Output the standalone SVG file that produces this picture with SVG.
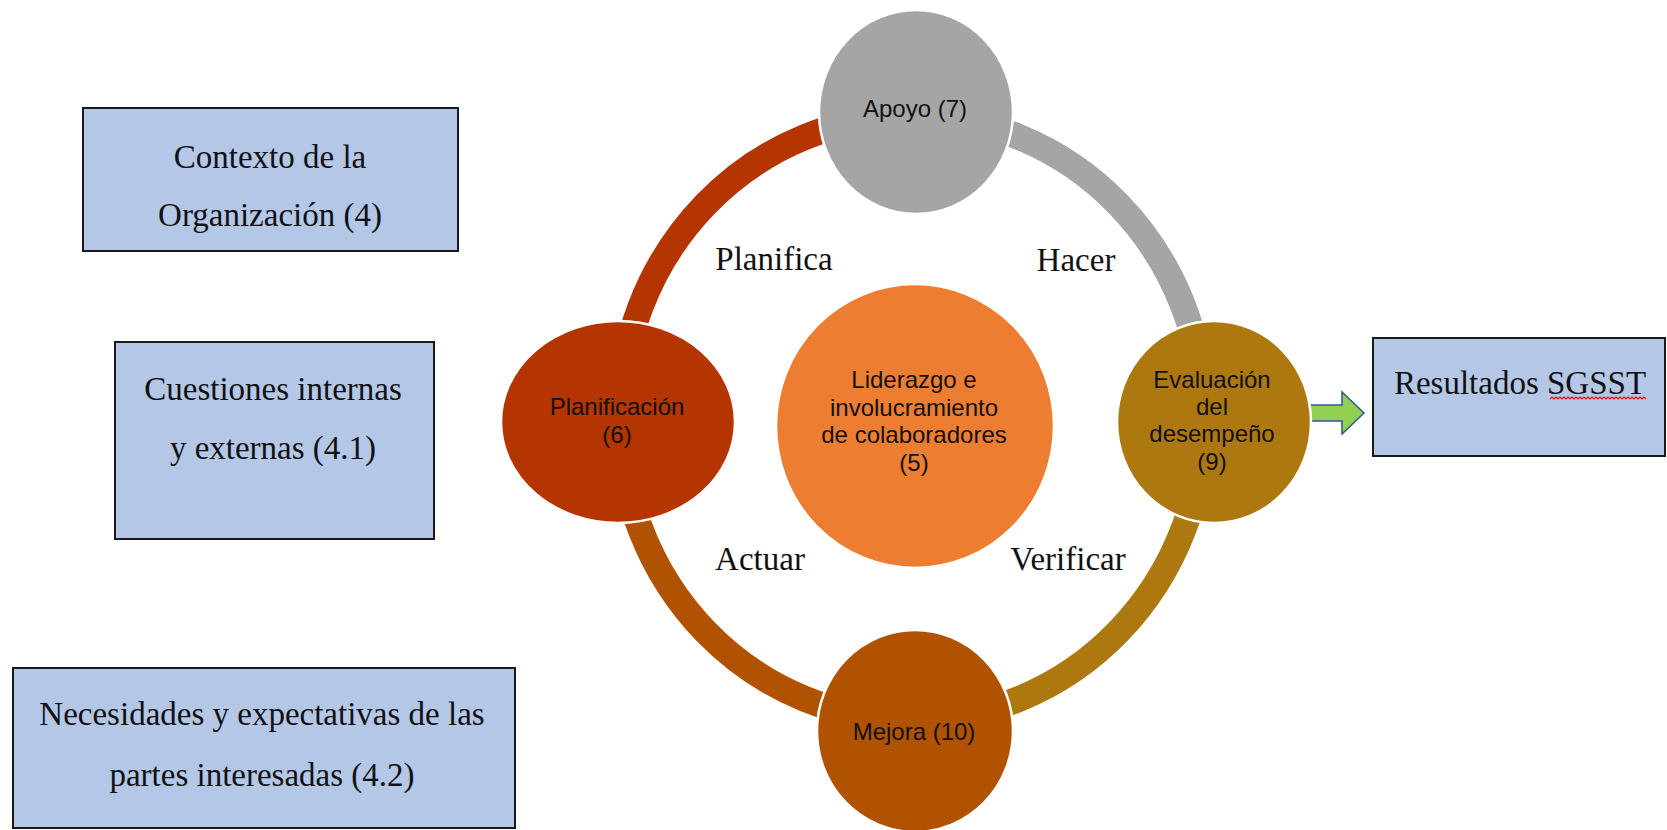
<svg xmlns="http://www.w3.org/2000/svg" width="1667" height="830" viewBox="0 0 1667 830">
  <style>
    .box{fill:#B4C7E7;stroke:#1a1a1a;stroke-width:2}
    .serif{font-family:"Liberation Serif","Times New Roman",serif;font-size:33px;fill:#111;text-anchor:middle}
    .sans{font-family:"Liberation Sans",Arial,sans-serif;font-size:24px;fill:#111;text-anchor:middle}
    .node{stroke:#ffffff;stroke-width:2.5}
    .arc{fill:none;stroke-width:26}
  </style>
  <rect width="1667" height="830" fill="#ffffff"/>

  <!-- Context boxes -->
  <g id="contexto">
    <rect class="box" x="83" y="108" width="375" height="143"/>
    <text class="serif" x="270" y="168">Contexto de la</text>
    <text class="serif" x="270" y="226">Organización (4)</text>
  </g>
  <g id="cuestiones">
    <rect class="box" x="115" y="342" width="319" height="197"/>
    <text class="serif" x="273" y="400">Cuestiones internas</text>
    <text class="serif" x="273" y="459">y externas (4.1)</text>
  </g>
  <g id="necesidades">
    <rect class="box" x="13" y="668" width="502" height="160"/>
    <text class="serif" x="262" y="725">Necesidades y expectativas de las</text>
    <text class="serif" x="262" y="786">partes interesadas (4.2)</text>
  </g>

  <!-- PHVA ring and output arrow -->
  <g id="connectors">
    <path class="arc" stroke="#B43500" d="M620 418 A292 302 0 0 1 912 116"/>
    <path class="arc" stroke="#A5A5A5" d="M912 116 A292 302 0 0 1 1204 418"/>
    <path class="arc" stroke="#AE7811" d="M1204 418 A292 302 0 0 1 912 720"/>
    <path class="arc" stroke="#B05200" d="M912 720 A292 302 0 0 1 620 418"/>
    <path d="M1300 405 H1342 V392 L1364 413 L1342 434 V421 H1300 Z" fill="#92D050" stroke="#2F5597" stroke-width="1.5"/>
  </g>

  <g id="cycle-labels">
    <text class="serif" x="774" y="270">Planifica</text>
    <text class="serif" x="1076" y="271">Hacer</text>
    <text class="serif" x="760" y="570">Actuar</text>
    <text class="serif" x="1068" y="570">Verificar</text>
  </g>

  <!-- Cycle stages -->
  <g id="apoyo">
    <ellipse class="node" cx="916" cy="112" rx="97" ry="102" fill="#A5A5A5"/>
    <text class="sans" x="915" y="117">Apoyo (7)</text>
  </g>
  <g id="planificacion">
    <ellipse class="node" cx="618" cy="422" rx="117" ry="101" fill="#B43500"/>
    <text class="sans" x="617" y="415">Planificación</text>
    <text class="sans" x="617" y="443">(6)</text>
  </g>
  <g id="liderazgo">
    <ellipse class="node" cx="915" cy="426" rx="139" ry="142" fill="#ED7D31"/>
    <text class="sans" x="914" y="388">Liderazgo e</text>
    <text class="sans" x="914" y="416">involucramiento</text>
    <text class="sans" x="914" y="443">de colaboradores</text>
    <text class="sans" x="914" y="471">(5)</text>
  </g>
  <g id="evaluacion">
    <ellipse class="node" cx="1214" cy="422" rx="97" ry="101" fill="#AE7811"/>
    <text class="sans" x="1212" y="388">Evaluación</text>
    <text class="sans" x="1212" y="415">del</text>
    <text class="sans" x="1212" y="442">desempeño</text>
    <text class="sans" x="1212" y="470">(9)</text>
  </g>
  <g id="mejora">
    <ellipse class="node" cx="915" cy="731" rx="98" ry="101" fill="#B05200"/>
    <text class="sans" x="914" y="740">Mejora (10)</text>
  </g>

  <!-- Output box -->
  <g id="resultados">
    <rect class="box" x="1373" y="338" width="292" height="118"/>
    <text class="serif" x="1520" y="394">Resultados SGSST</text>
    <polyline fill="none" stroke="#E01010" stroke-width="1.2" points="1550,399 1552,397 1554,399 1556,397 1558,399 1560,397 1562,399 1564,397 1566,399 1568,397 1570,399 1572,397 1574,399 1576,397 1578,399 1580,397 1582,399 1584,397 1586,399 1588,397 1590,399 1592,397 1594,399 1596,397 1598,399 1600,397 1602,399 1604,397 1606,399 1608,397 1610,399 1612,397 1614,399 1616,397 1618,399 1620,397 1622,399 1624,397 1626,399 1628,397 1630,399 1632,397 1634,399 1636,397 1638,399 1640,397 1642,399 1644,397 1646,399"/>
  </g>
</svg>
